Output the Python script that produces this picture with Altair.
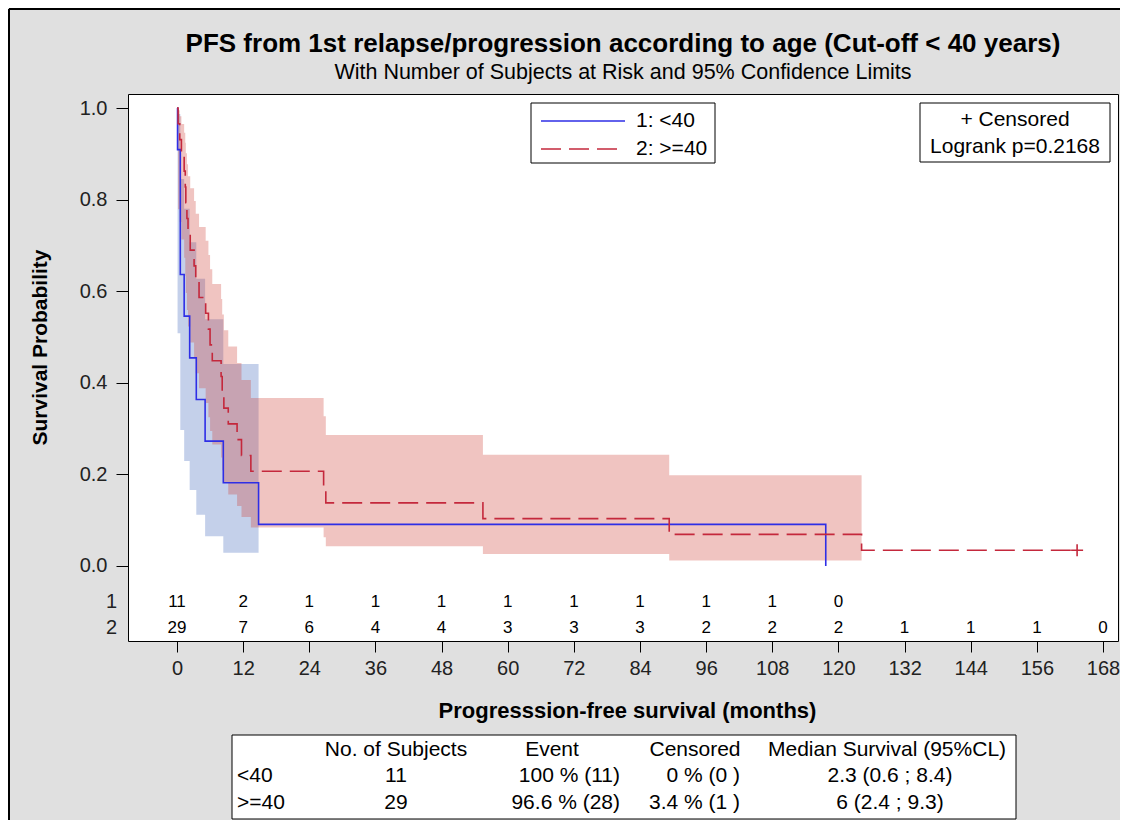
import altair as alt
import pandas as pd

FONT = "Liberation Sans"
BLUE = "#2e2ee6"
RED = "#c4283c"

# ---------------- data ----------------
# Group 1: <40  (Kaplan-Meier step points)
g1_time = [0, 0.1, 0.6, 1.3, 2.3, 3.5, 5.1, 8.4, 14.8, 117.7]
g1_surv = [1.0, 0.9091, 0.6364, 0.5455, 0.4545, 0.3636, 0.2727, 0.1818, 0.0909, 0.0]
# Group 1 confidence band
g1_ci_time = [0.1, 0.6, 1.3, 2.3, 3.5, 5.1, 8.4, 14.8]
g1_lower = [0.508, 0.297, 0.229, 0.166, 0.112, 0.065, 0.029, 0.029]
g1_upper = [0.987, 0.845, 0.780, 0.707, 0.627, 0.539, 0.441, 0.441]

# Group 2: >=40
g2_time = [0, 0.2, 0.5, 0.8, 1.3, 1.5, 1.6, 1.8, 2.0, 2.4, 3.1, 3.4, 4.0, 5.2, 5.7,
           6.0, 6.4, 8.0, 8.2, 8.5, 9.3, 10.9, 11.7, 13.4, 26.6, 27.0, 55.5, 89.3,
           124.2, 163.3]
g2_surv = [1.0, 0.9655, 0.9310, 0.8966, 0.8621, 0.8276, 0.7931, 0.7586, 0.7241,
           0.6897, 0.6552, 0.6207, 0.5862, 0.5517, 0.5172, 0.4828, 0.4483, 0.4138,
           0.3793, 0.3448, 0.3103, 0.2759, 0.2414, 0.2069, 0.1724, 0.1379, 0.1034,
           0.0690, 0.0345, 0.0345]
g2_ci_time = [0.2, 0.5, 0.8, 1.3, 1.5, 1.6, 1.8, 2.0, 2.4, 3.1, 3.4, 4.0, 5.2, 5.7,
              6.0, 6.4, 8.0, 8.2, 8.5, 9.3, 10.9, 11.7, 13.4, 26.6, 27.0, 55.5, 89.3,
              124.2]
g2_lower = [0.779, 0.751, 0.713, 0.673, 0.634, 0.596, 0.559, 0.523, 0.488, 0.454,
            0.421, 0.388, 0.356, 0.325, 0.295, 0.265, 0.237, 0.209, 0.182, 0.156,
            0.131, 0.107, 0.084, 0.063, 0.043, 0.026, 0.012, 0.012]
g2_upper = [0.995, 0.982, 0.965, 0.946, 0.924, 0.901, 0.877, 0.851, 0.825, 0.797,
            0.769, 0.740, 0.710, 0.679, 0.648, 0.616, 0.583, 0.549, 0.515, 0.479,
            0.443, 0.406, 0.367, 0.327, 0.286, 0.243, 0.198, 0.198]

censor_time = [163.3]
censor_surv = [0.0345]

# Numbers at risk
risk_times_g1 = [0, 12, 24, 36, 48, 60, 72, 84, 96, 108, 120]
risk_g1 = [11, 2, 1, 1, 1, 1, 1, 1, 1, 1, 0]
risk_times_g2 = [0, 12, 24, 36, 48, 60, 72, 84, 96, 108, 120, 132, 144, 156, 168]
risk_g2 = [29, 7, 6, 4, 4, 3, 3, 3, 2, 2, 2, 1, 1, 1, 0]

x_ticks = [0, 12, 24, 36, 48, 60, 72, 84, 96, 108, 120, 132, 144, 156, 168]
y_ticks = [0.0, 0.2, 0.4, 0.6, 0.8, 1.0]

legend_labels = ["1: <40", "2: >=40"]
risk_row_labels = ["1", "2"]

table_header = ["No. of Subjects", "Event", "Censored", "Median Survival (95%CL)"]
table_groups = ["<40", ">=40"]
table_subjects = ["11", "29"]
table_event = ["100 % (11)", "96.6 % (28)"]
table_censored = ["0 % (0 )", "3.4 % (1 )"]
table_median = ["2.3 (0.6 ; 8.4)", "6 (2.4 ; 9.3)"]

title_text = "PFS from 1st relapse/progression according to age (Cut-off < 40 years)"
subtitle_text = "With Number of Subjects at Risk and 95% Confidence Limits"

# ---------------- frames ----------------
g1_df = pd.DataFrame({"t": g1_time, "s": g1_surv})
g2_df = pd.DataFrame({"t": g2_time, "s": g2_surv})
g1_ci = pd.DataFrame({"t": g1_ci_time, "lo": g1_lower, "hi": g1_upper})
g2_ci = pd.DataFrame({"t": g2_ci_time, "lo": g2_lower, "hi": g2_upper})
cens_df = pd.DataFrame({"t": censor_time, "s": censor_surv})
r1_df = pd.DataFrame({"t": risk_times_g1, "n": risk_g1})
r2_df = pd.DataFrame({"t": risk_times_g2, "n": risk_g2})
one = pd.DataFrame({"k": [0]})

W, H = 990, 547
xscale = alt.Scale(domain=[-8.89, 170.72], nice=False, zero=False)
yscale = alt.Scale(domain=[-0.1638, 1.0306], nice=False, zero=False)

xaxis = alt.Axis(values=x_ticks, title="Progresssion-free survival (months)", grid=False,
                 domain=False, tickSize=11, tickColor="black", labelFontSize=20,
                 labelColor="#222222", labelPadding=6, labelFont=FONT, labelFlush=False,
                 labelOverlap=False, titleFontSize=22, titleFont=FONT,
                 titleFontWeight="bold", titleColor="black", titleX=499, titleY=69,
                 titleBaseline="middle", titleAlign="center")
yaxis = alt.Axis(values=y_ticks, format=".1f", title="Survival Probability", grid=False,
                 domain=False, tickSize=12, tickColor="black", labelFontSize=20,
                 labelColor="#222222", labelPadding=9, labelFont=FONT,
                 labelOverlap=False, titleFontSize=21, titleFont=FONT,
                 titleFontWeight="bold", titleColor="black", titleX=-88, titleY=253,
                 titleAngle=270, titleBaseline="middle", titleAlign="center")

X = alt.X("t:Q", scale=xscale, axis=xaxis)

band1 = alt.Chart(g1_ci).mark_area(interpolate="step-after", color="#3b64b8",
                                   opacity=0.3).encode(
    x=X, y=alt.Y("lo:Q", scale=yscale, axis=yaxis), y2="hi:Q")
band2 = alt.Chart(g2_ci).mark_area(interpolate="step-after", color="#cc3b33",
                                   opacity=0.3).encode(
    x=X, y=alt.Y("lo:Q", scale=yscale, axis=yaxis), y2="hi:Q")
line1 = alt.Chart(g1_df).mark_line(interpolate="step-after", color=BLUE,
                                   strokeWidth=1.6).encode(
    x=X, y=alt.Y("s:Q", scale=yscale, axis=yaxis))
line2 = alt.Chart(g2_df).mark_line(interpolate="step-after", color=RED, strokeWidth=1.6,
                                   strokeDash=[20, 8]).encode(
    x=X, y=alt.Y("s:Q", scale=yscale, axis=yaxis))
cens = alt.Chart(cens_df).mark_point(shape="M-1,0L1,0M0,-1L0,1", filled=False, size=144,
                                     color=RED, strokeWidth=1.6, opacity=1).encode(
    x=X, y=alt.Y("s:Q", scale=yscale, axis=yaxis))

risk1 = alt.Chart(r1_df).mark_text(fontSize=17, font=FONT, color="black",
                                   baseline="middle").encode(
    x=X, y=alt.value(508), text="n:Q")
risk2 = alt.Chart(r2_df).mark_text(fontSize=17, font=FONT, color="black",
                                   baseline="middle").encode(
    x=X, y=alt.value(534), text="n:Q")


def txt(s, x, y, size=21, align="center", weight="normal", color="black"):
    return alt.Chart(one).mark_text(text=s, fontSize=size, font=FONT, align=align,
                                    baseline="middle", fontWeight=weight,
                                    color=color).encode(x=alt.value(x), y=alt.value(y))


def box(x1, y1, x2, y2, fill="white", sw=1):
    return alt.Chart(one).mark_rect(fill=fill, stroke="black", strokeWidth=sw).encode(
        x=alt.value(x1), x2=alt.value(x2), y=alt.value(y1), y2=alt.value(y2))


layers = [band1, band2, line1, line2, cens, risk1, risk2]

# titles
layers.append(txt(title_text, 495, -50, size=26, weight="bold"))
layers.append(txt(subtitle_text, 495, -21, size=21.5))

# row labels of the at-risk table
layers.append(txt(risk_row_labels[0], -11, 508, size=20, align="right", color="#222222"))
layers.append(txt(risk_row_labels[1], -11, 534, size=20, align="right", color="#222222"))

# legend (groups)
layers.append(box(403, 9, 587, 69))
layers.append(alt.Chart(one).mark_rule(color=BLUE, strokeWidth=1.6).encode(
    x=alt.value(413), x2=alt.value(497), y=alt.value(27)))
layers.append(alt.Chart(one).mark_rule(color=RED, strokeWidth=1.6, strokeDash=[20, 8]).encode(
    x=alt.value(413), x2=alt.value(497), y=alt.value(55)))
layers.append(txt(legend_labels[0], 508, 27, align="left"))
layers.append(txt(legend_labels[1], 508, 55, align="left"))

# censored / logrank box
layers.append(box(792, 9, 982, 68))
layers.append(txt("+ Censored", 887, 26))
layers.append(txt("Logrank p=0.2168", 887, 53))

# summary table
layers.append(box(104, 641, 888, 725))
layers.append(txt(table_header[0], 268, 656))
layers.append(txt(table_header[1], 424, 656))
layers.append(txt(table_header[2], 567, 656))
layers.append(txt(table_header[3], 759, 656))
for i, yy in enumerate([682, 709]):
    layers.append(txt(table_groups[i], 109, yy, align="left"))
    layers.append(txt(table_subjects[i], 268, yy))
    layers.append(txt(table_event[i], 492, yy, align="right"))
    layers.append(txt(table_censored[i], 612, yy, align="right"))
    layers.append(txt(table_median[i], 762, yy))

# outer frame (top and left edges; right/bottom lie outside the picture)
layers.append(alt.Chart(one).mark_rule(color="black", strokeWidth=2).encode(
    x=alt.value(-119), x2=alt.value(1000), y=alt.value(-85)))
layers.append(alt.Chart(one).mark_rule(color="black", strokeWidth=2).encode(
    x=alt.value(-119), y=alt.value(-85), y2=alt.value(900)))

chart = alt.layer(*layers).properties(
    width=W, height=H,
    background="#e0e0e0",
    padding={"left": 120, "top": 86, "right": 2, "bottom": 179},
    autosize=alt.AutoSizeParams(type="none"),
).configure_view(stroke="black", strokeWidth=1, fill="white")

chart.save("out.html", embed_options={"renderer": "svg", "actions": False})
